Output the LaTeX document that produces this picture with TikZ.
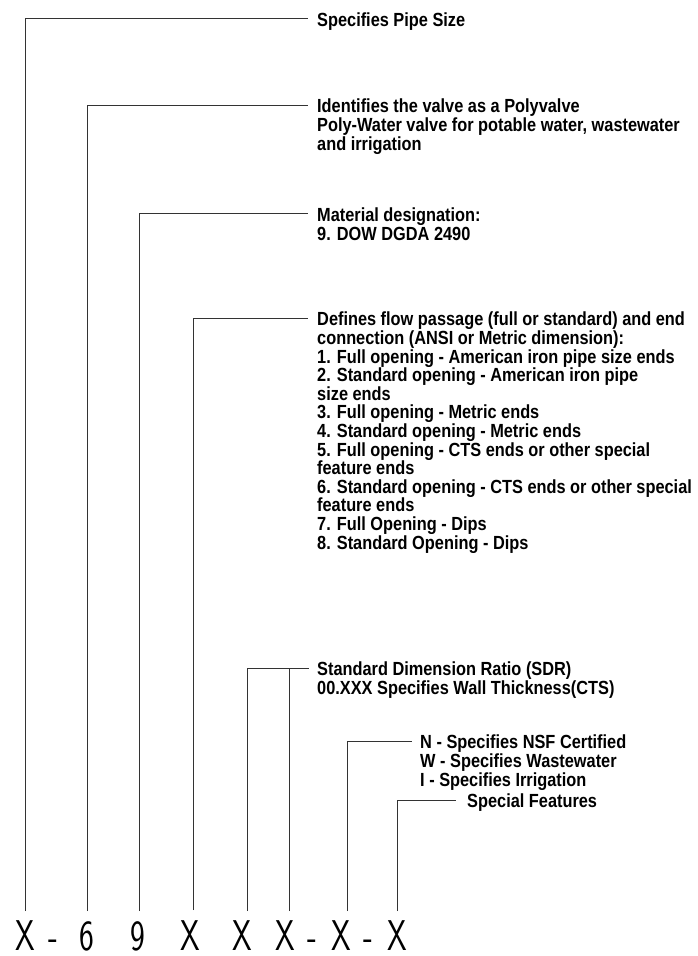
\documentclass[tikz,border=0pt]{standalone}
\usepackage{fontspec}
\setmainfont{Liberation Sans}[FakeStretch=0.86]
\usetikzlibrary{positioning}
\newcommand{\codeglyph}[1]{\scalebox{0.73}[1]{#1}}
\tikzset{
  descbox/.style={anchor=north west, align=left, inner sep=0pt,
    font=\fontsize{19}{18.6}\selectfont\bfseries, execute at begin node=\strut},
  codechar/.style={anchor=base, inner sep=0pt, font=\sffamily\fontsize{43}{43}\selectfont},
  leader/.style={draw=black!80, line width=0.9pt},
}

\begin{document}
\begin{tikzpicture}[x=1pt, y=-1pt]
  \useasboundingbox (0,0) rectangle (697,956);

  % Part number along the bottom
  \node[codechar] (c1) at (25,950) {\codeglyph{X}};
  \node[codechar] (d1) at (53,950) {\codeglyph{-}};
  \node[codechar] (c2) at (87,950) {\codeglyph{6}};
  \node[codechar] (c3) at (138,950) {\codeglyph{9}};
  \node[codechar] (c4) at (190,950) {\codeglyph{X}};
  \node[codechar] (c5) at (242,950) {\codeglyph{X}};
  \node[codechar] (c6) at (285,950) {\codeglyph{X}};
  \node[codechar] (d2) at (312,950) {\codeglyph{-}};
  \node[codechar] (c7) at (341,950) {\codeglyph{X}};
  \node[codechar] (d3) at (368,950) {\codeglyph{-}};
  \node[codechar] (c8) at (397,950) {\codeglyph{X}};

  % Feet of the leaders
  \coordinate (p1) at (25,911);
  \coordinate (p2) at (87,911);
  \coordinate (p3) at (139,911);
  \coordinate (p4) at (193,910);
  \coordinate (p5) at (247,911);
  \coordinate (p6) at (289,911);
  \coordinate (p7) at (347,911);
  \coordinate (p8) at (397,911);

  % Descriptions
  \node[descbox] (size) at (317,12.7) {Specifies Pipe Size};
  \node[descbox] (poly) at (317,99) {Identifies the valve as a Polyvalve\\
    Poly-Water valve for potable water, wastewater\\
    and irrigation};
  \node[descbox] (material) at (317,207.7) {Material designation:\\
    9. DOW DGDA 2490};
  \node[descbox] (flow) at (317,312) {Defines flow passage (full or standard) and end\\
    connection (ANSI or Metric dimension):\\
    1. Full opening - American iron pipe size ends\\
    2. Standard opening - American iron pipe\\
    size ends\\
    3. Full opening - Metric ends\\
    4. Standard opening - Metric ends\\
    5. Full opening - CTS ends or other special\\
    feature ends\\
    6. Standard opening - CTS ends or other special\\
    feature ends\\
    7. Full Opening - Dips\\
    8. Standard Opening - Dips};
  \node[descbox] (sdr) at (317,662) {Standard Dimension Ratio (SDR)\\
    00.XXX Specifies Wall Thickness(CTS)};
  \node[descbox] (cert) at (420,735) {N - Specifies NSF Certified\\
    W - Specifies Wastewater\\
    I - Specifies Irrigation};
  \node[descbox] (special) at (467,794) {Special Features};
  \coordinate (sdrk) at ([xshift=-8pt,yshift=-6pt]sdr.north west);

  % Leaders
  \draw[leader] (p1) |- ([xshift=-9pt,yshift=-6pt]size.north west);
  \draw[leader] (p2) |- ([xshift=-9pt,yshift=-6pt]poly.north west);
  \draw[leader] (p3) |- ([xshift=-9pt,yshift=-6pt]material.north west);
  \draw[leader] (p4) |- ([xshift=-9pt,yshift=-6pt]flow.north west);
  \draw[leader] (p5) |- (sdrk);
  \draw[leader] (p6) -- (p6 |- sdrk);
  \draw[leader] (p7) |- ([xshift=-8pt,yshift=-6pt]cert.north west);
  \draw[leader] (p8) |- ([xshift=-11pt,yshift=-6pt]special.north west);
\end{tikzpicture}
\end{document}
